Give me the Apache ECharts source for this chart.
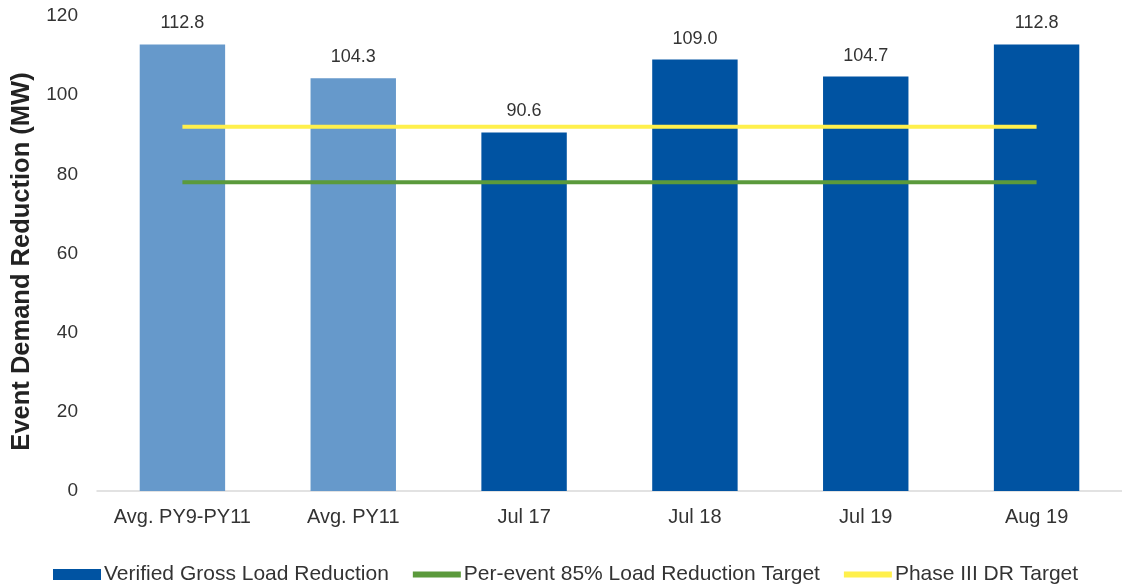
<!DOCTYPE html>
<html>
<head>
<meta charset="utf-8">
<script src="https://cdn.jsdelivr.net/npm/echarts@6/dist/echarts.min.js"></script>
<style>
html,body{margin:0;padding:0;background:#fff;}
#chart{width:1122px;height:587px;}
</style>
</head>
<body>
<div id="chart"></div>
<script>
const categories = ['Avg. PY9-PY11', 'Avg. PY11', 'Jul 17', 'Jul 18', 'Jul 19', 'Aug 19'];
const verifiedGross = [112.8, 104.3, 90.6, 109.0, 104.7, 112.8];
const perEventTarget = [78, 78, 78, 78, 78, 78];
const phaseIIITarget = [92, 92, 92, 92, 92, 92];
const averageCount = 2; // first categories are averages (lighter bars)

const DARK = '#0053a2';
const LIGHT = '#6699cb';
const GREEN = '#5b9a3c';
const YELLOW = '#fff04c';
const FONT = '"Liberation Sans", Arial, sans-serif';
const LINE_ICON = 'path://M0,0h48v6h-48z';

const chart = echarts.init(document.getElementById('chart'));
chart.setOption({
  animation: false,
  textStyle: { fontFamily: FONT },
  grid: { left: 97, top: 16, right: -8, bottom: 96, containLabel: false },
  legend: {
    bottom: -3,
    left: 48,
    itemWidth: 48,
    itemHeight: 11,
    itemGap: 24,
    textStyle: { fontSize: 21, color: '#333', fontFamily: FONT, padding: [0, 0, 0, -2] },
    data: [
      { name: 'Verified Gross Load Reduction', icon: 'rect' },
      { name: 'Per-event 85% Load Reduction Target', icon: LINE_ICON },
      { name: 'Phase III DR Target', icon: LINE_ICON }
    ]
  },
  xAxis: {
    type: 'category',
    data: categories,
    axisLine: { lineStyle: { color: '#d9d9d9', width: 1.5 } },
    axisTick: { show: false },
    axisLabel: { fontSize: 20, color: '#333', margin: 16, fontFamily: FONT, interval: 0 }
  },
  yAxis: {
    type: 'value',
    min: 0, max: 120, interval: 20,
    name: 'Event Demand Reduction (MW)',
    nameLocation: 'middle',
    nameGap: 58,
    nameTextStyle: { fontSize: 25.5, fontWeight: 'bold', color: '#222', fontFamily: FONT, padding: [0, 16, 0, 0] },
    axisLine: { show: false },
    axisTick: { show: false },
    splitLine: { show: false },
    axisLabel: { fontSize: 19, color: '#333', margin: 19, fontFamily: FONT }
  },
  series: [
    {
      name: 'Verified Gross Load Reduction',
      type: 'bar',
      barWidth: '50%',
      itemStyle: { color: DARK },
      data: verifiedGross.map((v, i) => ({
        value: v,
        itemStyle: { color: i < averageCount ? LIGHT : DARK }
      })),
      label: {
        show: true, position: 'top', distance: 12,
        fontSize: 18, color: '#333', fontFamily: FONT,
        formatter: p => p.value.toFixed(1)
      },
      z: 1
    },
    {
      name: 'Per-event 85% Load Reduction Target',
      type: 'line',
      data: perEventTarget,
      symbol: 'none',
      lineStyle: { color: GREEN, width: 4 },
      itemStyle: { color: GREEN },
      z: 3
    },
    {
      name: 'Phase III DR Target',
      type: 'line',
      data: phaseIIITarget,
      symbol: 'none',
      lineStyle: { color: YELLOW, width: 4 },
      itemStyle: { color: YELLOW },
      z: 3
    }
  ]
});
</script>
</body>
</html>
